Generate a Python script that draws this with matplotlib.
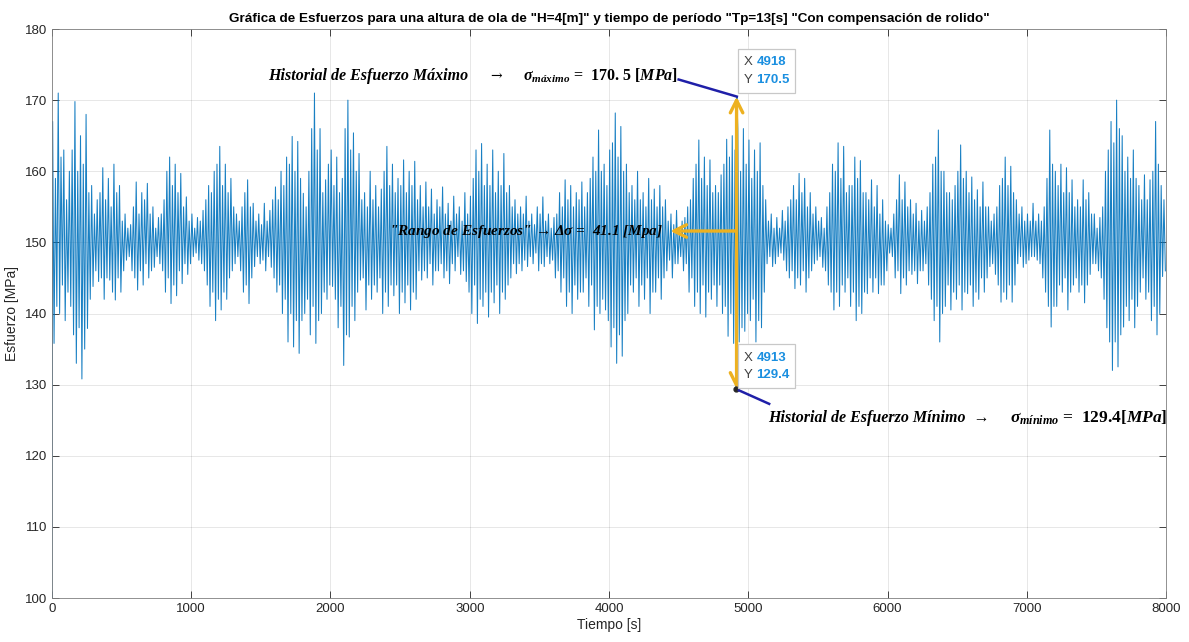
"""
Historial de esfuerzos - ola H=4 m, Tp=13 s, con compensacion de rolido
"""
import numpy as np
import matplotlib.pyplot as plt
import matplotlib.patches as mpatches

# valor inicial del registro (t = 0)
esfuerzo_inicial = 100.0

# crestas del registro [MPa], una cada 20 s empezando en t = 5 s
crestas = [
    167, 159, 171, 162, 163, 156, 160, 163, 169.8, 160,
    165, 161, 168, 157, 158, 154, 156, 157, 160.5, 156,
    159, 155, 161, 157, 158, 153, 154, 152, 152.5, 155,
    158.5, 154, 157, 156, 158.3, 154, 155, 152, 153.5, 154,
    156, 160, 162, 158, 161, 157, 159.7, 155, 156.4, 153,
    154, 152, 153.5, 153, 154.5, 156, 158, 157, 160, 161,
    163.5, 158, 161, 157, 159, 155, 154, 153, 155, 157,
    158.8, 155, 155.5, 153, 154, 152.5, 155.5, 153, 154.5, 156,
    157.8, 156, 160, 158, 162, 161, 164.9, 160, 164.2, 159,
    156.9, 155, 160, 166, 171, 163, 166, 157, 158.8, 161,
    163, 158, 162, 157, 159, 166, 170, 163, 165.4, 160,
    162.5, 156, 157, 155, 160, 156, 158, 155, 157.5, 160,
    163.5, 158, 161, 157, 159, 158, 161.6, 157, 160, 158,
    161.4, 156, 158, 155, 158.5, 155, 157.5, 154, 156, 155,
    157.8, 154, 155.5, 153, 156.5, 154, 155, 153, 157, 154,
    156.5, 159, 163, 160, 163.9, 158, 161, 158, 163, 157,
    160, 158, 162.5, 157, 158, 155, 156, 154, 155, 154,
    156.5, 153, 154, 152.5, 155, 154, 156.4, 153, 154, 152,
    153.5, 154, 157, 155, 158.8, 156, 158, 155, 157, 156,
    158.5, 155, 157, 159, 162, 160, 165.8, 160, 161, 158,
    163, 164, 168.2, 162, 166.3, 160, 161, 157, 158, 156,
    160, 156, 157, 155, 159, 156, 157.5, 155, 158, 155,
    156, 153, 154, 152.5, 154.5, 152, 153, 153.5, 155, 156,
    159, 161, 164.4, 159, 162, 158, 161.6, 157, 158, 157,
    159.5, 161, 164.5, 162, 165, 163, 166, 160, 166, 161,
    164.4, 159, 163, 160, 164, 158, 156, 153, 154, 152,
    153.5, 152, 154.5, 153, 155, 156, 158, 156, 159.7, 157,
    159, 155, 157, 154, 155, 153, 153.5, 152, 155, 157,
    161, 160, 164, 159, 163.5, 157, 158, 158, 162, 159,
    161.5, 157, 157, 156, 158.8, 155, 158, 154, 156, 153,
    152.5, 152, 154, 156, 159.5, 156, 158.5, 155, 156, 154,
    155.5, 153, 154.5, 153, 155, 157, 161, 162, 165.8, 160,
    160, 157, 157, 156, 158, 160, 163.7, 159, 160, 157,
    159.2, 156, 157.4, 155, 158.5, 155, 155, 153, 154, 155,
    158, 159, 162, 158, 160.7, 157, 156, 154, 155, 153,
    154, 153, 155.5, 153, 154, 153, 155, 159, 165.8, 161,
    160, 158, 161, 157, 160.5, 157, 158.8, 155, 156, 155,
    158.8, 156, 157, 154, 154, 152, 153.5, 155, 160, 163,
    167, 164, 170, 166, 165, 160, 162, 159, 163, 159,
    158, 156, 159.5, 156, 158.8, 160, 167, 161, 158, 156,
]

# valles del registro [MPa], uno cada 20 s empezando en t = 15 s
valles = [
    135.8, 141, 140, 144, 139, 143, 141, 137, 133, 138,
    130.8, 135, 137.9, 142, 143.8, 146, 144.5, 145, 142, 145,
    144.7, 143, 141.9, 145, 143, 146, 147.5, 148, 146, 145,
    143.3, 146, 144, 147, 145, 146, 146.5, 148, 147, 146,
    143, 145, 141.4, 144, 142.5, 146, 144.2, 147, 145.5, 147,
    148, 148.5, 147.5, 147, 146, 144, 141, 143, 139, 142,
    140.5, 143, 142, 145, 146, 147, 148, 146, 143, 144,
    141.4, 145, 146.6, 148, 147, 147.5, 146, 148, 146.5, 145,
    143, 144, 140, 142, 136, 140, 135.3, 139, 134.4, 139,
    140, 142, 137, 141, 135.8, 139, 140, 143, 142, 144,
    143.8, 142, 138, 141, 132.7, 137, 136.7, 141, 139, 143,
    144.7, 145, 140.5, 144, 142, 144, 143, 145, 140, 143,
    141, 144, 142.5, 144, 140, 143, 141.5, 144, 140.5, 143,
    142, 146, 144.7, 146, 145, 147, 144, 146, 146, 147,
    145, 146, 144.2, 147, 146, 148, 145.5, 146, 144.5, 143,
    140, 144, 138.6, 142, 141, 143, 139.5, 143, 141.5, 144,
    140, 143, 142, 144, 145, 147, 145.6, 147, 146, 147.5,
    146.6, 148, 147, 148.5, 146, 147, 146.6, 148, 147, 147.5,
    145, 146, 143, 145, 141, 143, 140, 144, 142, 143,
    143, 145, 141, 144, 137.7, 141, 140, 142, 140.5, 139,
    135.3, 138, 133, 137, 134, 139, 140, 144, 143, 145,
    141, 144, 142, 145, 140, 143, 143, 145, 142, 145,
    146, 147.5, 145, 147, 147, 148, 146, 147, 143, 145,
    141, 143, 140, 144, 139.5, 143, 142, 144, 141, 144,
    140, 141, 136.8, 140, 135.8, 139, 136, 138, 137.5, 140,
    139, 142, 136, 139, 138, 143, 147, 148, 146.6, 147,
    148, 148.5, 147.5, 146, 145, 146, 143.5, 145, 144, 146,
    143, 145, 146, 147, 147.5, 148, 146.5, 146, 144, 143,
    140.5, 143, 141, 144, 143, 145, 141, 143, 139, 141,
    140, 143, 142.8, 145, 143, 145, 142.8, 144, 144, 146,
    148.5, 148, 145, 146, 142.8, 145, 144, 146, 145.5, 146,
    144.2, 146, 146, 147, 144, 142, 139, 141, 136, 140,
    141, 144, 140.5, 143, 142, 144, 140.5, 143, 142.8, 144,
    141, 143, 142, 145, 143, 145, 146.6, 147, 145.5, 144,
    141.6, 143, 142, 144, 141.6, 144, 147, 148, 146.5, 147,
    147.5, 148, 148, 147.5, 147, 145, 143, 141, 138.1, 141,
    141, 144, 143, 145, 140.5, 143, 144, 145, 143, 144,
    141.5, 144, 145.5, 147, 147, 146, 145, 142, 138, 136,
    132, 136, 132.5, 137, 138.1, 141, 139, 142, 138, 141,
    143, 145, 142, 143, 139, 141, 137, 140, 145.2, 146,
]

# puntos marcados con data tip (x, y)
tip_max = (4918, 170.5)
tip_min = (4913, 129.4)
rango = round(tip_max[1] - tip_min[1], 1)

# armar la serie intercalando crestas y valles
t_crestas = 5 + 20 * np.arange(len(crestas))
t_valles = 15 + 20 * np.arange(len(valles))
tiempo = np.concatenate([[0], t_crestas, t_valles, [tip_max[0], tip_min[0]]])
esfuerzo = np.concatenate([[esfuerzo_inicial], crestas, valles, [tip_max[1], tip_min[1]]])
orden = np.argsort(tiempo, kind='stable')
tiempo = tiempo[orden]
esfuerzo = esfuerzo[orden]

plt.rcParams['font.family'] = ['Liberation Sans', 'DejaVu Sans']
plt.rcParams['mathtext.fontset'] = 'custom'
plt.rcParams['mathtext.it'] = 'Liberation Serif:italic:bold'
plt.rcParams['mathtext.rm'] = 'Liberation Serif:bold'

fig = plt.figure(figsize=(11.89, 6.42), dpi=100)
ax = fig.add_axes([0.0437, 0.0685, 0.9370, 0.8863])

ax.plot(tiempo, esfuerzo, color='#0072BD', linewidth=0.75, alpha=0.9)

ax.set_xlim(0, 8000)
ax.set_ylim(100, 180)
ax.set_xticks(np.arange(0, 8001, 1000))
ax.set_yticks(np.arange(100, 181, 10))
ax.grid(True, color='#262626', alpha=0.13, linewidth=0.6)
ax.tick_params(direction='in', top=True, right=True, labelsize=9.5,
               colors='#262626', length=5, width=0.6)
for s in ax.spines.values():
    s.set_color('#7f7f7f')
    s.set_linewidth(0.6)

ax.set_title('Gráfica de Esfuerzos para una altura de ola de "H=4[m]" y tiempo de período '
             '"Tp=13[s] "Con compensación de rolido"',
             fontsize=9.7, fontweight='bold', pad=5)
ax.set_xlabel('Tiempo [s]', fontsize=10, color='#262626', labelpad=2)
ax.set_ylabel('Esfuerzo [MPa]', fontsize=10, color='#262626', labelpad=4)

# flechas del rango de esfuerzos
naranja = '#EDB120'
x_flecha = tip_max[0] - 2
y_rango = 151.6
ax.annotate('', xy=(x_flecha, tip_max[1]), xytext=(x_flecha, tip_min[1]),
            arrowprops=dict(arrowstyle='<->,head_length=0.9,head_width=0.45',
                            color=naranja, lw=2.4, shrinkA=0, shrinkB=0), zorder=5)
ax.annotate('', xy=(4440, y_rango), xytext=(x_flecha, y_rango),
            arrowprops=dict(arrowstyle='->,head_length=0.9,head_width=0.45',
                            color=naranja, lw=2.4, shrinkA=0, shrinkB=0), zorder=5)
ax.plot(tip_min[0], tip_min[1], 'o', color='#262626', markersize=3.5, zorder=6)

# cuadros de data tip
for (xt, yt), y0 in [(tip_max, 171.0), (tip_min, 129.5)]:
    caja = mpatches.Rectangle((4926, y0), 409, 6.2, facecolor='white',
                              edgecolor='#c8c8c8', linewidth=0.9, zorder=8)
    ax.add_patch(caja)
    ax.text(4965, y0 + 4.3, 'X', fontsize=9.5, color='#404040', va='center', zorder=9)
    ax.text(5060, y0 + 4.3, f'{xt}', fontsize=9.5, color='#1a8fe0',
            fontweight='bold', va='center', zorder=9)
    ax.text(4965, y0 + 1.8, 'Y', fontsize=9.5, color='#404040', va='center', zorder=9)
    ax.text(5060, y0 + 1.8, f'{yt:.1f}', fontsize=9.5, color='#1a8fe0',
            fontweight='bold', va='center', zorder=9)

# lineas de llamada y textos
azul = '#1F1FA8'
ax.plot([4500, tip_max[0]], [172.9, tip_max[1]], color=azul, lw=1.8, zorder=7)
ax.plot([tip_min[0] + 20, 5150], [tip_min[1] - 0.2, 127.3], color=azul, lw=1.8, zorder=7)

serif = 'Liberation Serif'
ax.text(1550, 173.4, 'Historial de Esfuerzo Máximo', fontsize=11.5, family=serif,
        style='italic', fontweight='bold', va='center')
ax.text(3150, 173.4, '→', fontsize=10, family='DejaVu Serif', va='center')
ax.text(3380, 173.4, rf'$\sigma_{{máximo}}$ =  {tip_max[1]:.1f}'.replace('.', '. ', 1) + r' [$MPa$]',
        fontsize=11.5, family=serif, fontweight='bold', va='center')

ax.text(2420, y_rango, f'"Rango de Esfuerzos" → Δσ =  {rango} [$Mpa$]', fontsize=11,
        family=serif, style='italic', fontweight='bold', va='center', zorder=6)

ax.text(5140, 125.3, 'Historial de Esfuerzo Mínimo  →', fontsize=11.5,
        family=serif, style='italic', fontweight='bold', va='center')
ax.text(6880, 125.3, rf'$\sigma_{{mínimo}}$ =  {tip_min[1]:.1f}[$MPa$]', fontsize=12.5,
        family=serif, fontweight='bold', va='center')

fig.savefig('out.png', dpi=100)
